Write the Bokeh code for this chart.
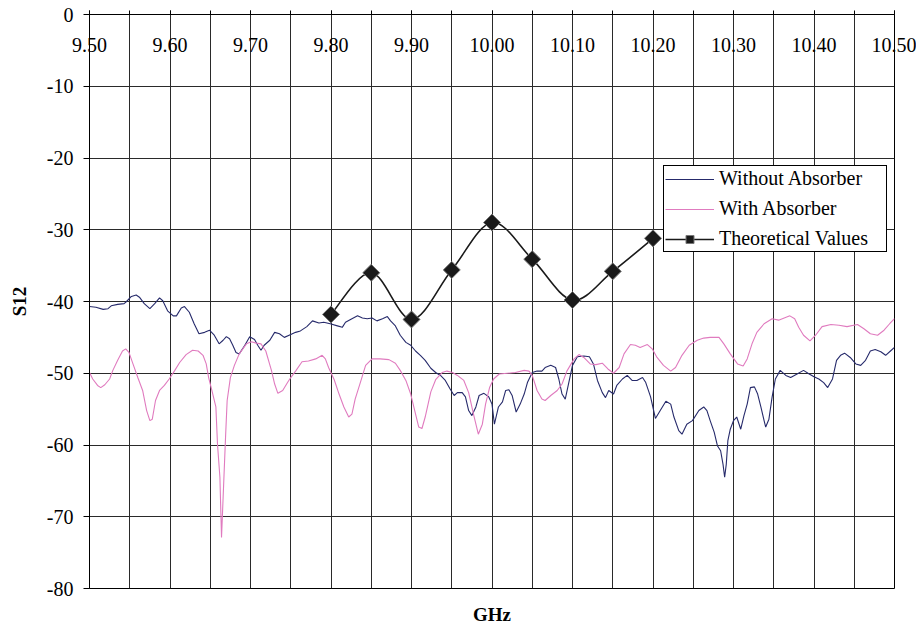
from bokeh.plotting import figure
from bokeh.models import (Range1d, FixedTicker, LinearAxis, Legend,
                          LegendItem, ColumnDataSource, NumeralTickFormatter)
from bokeh.embed import file_html
from bokeh.resources import INLINE

# ---------------- data ----------------
freq_without = [
    9.500, 9.508, 9.517, 9.523, 9.527, 9.535, 9.543, 9.546, 9.552, 9.558,
    9.562, 9.568, 9.575, 9.581, 9.587, 9.591, 9.597, 9.604, 9.608, 9.614,
    9.618, 9.624, 9.630, 9.636, 9.643, 9.649, 9.655, 9.661, 9.666, 9.670,
    9.674, 9.678, 9.682, 9.686, 9.693, 9.699, 9.705, 9.709, 9.713, 9.717,
    9.724, 9.730, 9.736, 9.742, 9.748,
    9.756, 9.762, 9.770, 9.777, 9.785, 9.791, 9.799, 9.808, 9.814, 9.818,
    9.826, 9.833, 9.839, 9.845, 9.851, 9.857, 9.864, 9.870, 9.874, 9.880,
    9.886, 9.893, 9.899, 9.905, 9.911, 9.917, 9.924, 9.930, 9.936, 9.942,
    9.948, 9.953, 9.957, 9.963, 9.967, 9.971, 9.975, 9.980, 9.984, 9.990,
    9.996, 10.000, 10.003,
    10.008, 10.013, 10.017, 10.021, 10.025, 10.030, 10.035, 10.040, 10.044, 10.050,
    10.056, 10.062, 10.066, 10.073, 10.079, 10.083, 10.087, 10.091, 10.095, 10.100,
    10.106, 10.114, 10.121, 10.126, 10.131, 10.137, 10.141, 10.145, 10.151, 10.155,
    10.162, 10.168, 10.174, 10.180, 10.187, 10.191, 10.197, 10.203, 10.209, 10.216,
    10.222, 10.226, 10.232, 10.236, 10.242, 10.249,
    10.257, 10.263, 10.267, 10.271, 10.276, 10.280, 10.284, 10.287, 10.289, 10.291,
    10.293, 10.296, 10.300, 10.304, 10.309, 10.313, 10.317, 10.321, 10.326, 10.330,
    10.334, 10.338, 10.340, 10.344, 10.348, 10.352, 10.358, 10.365, 10.371, 10.379,
    10.387, 10.394, 10.400, 10.406, 10.412, 10.417, 10.423, 10.428, 10.433, 10.438,
    10.445, 10.452, 10.458, 10.464, 10.470, 10.476, 10.483, 10.489, 10.495, 10.500,
]
s12_without = [
    -40.7, -40.8, -41.1, -41.0, -40.6, -40.4, -40.3, -40.0, -39.3, -39.1,
    -39.4, -40.3, -41.0, -40.3, -39.5, -39.9, -41.3, -42.0, -42.0, -40.9,
    -40.7, -41.5, -43.1, -44.5, -44.3, -44.0, -44.7, -45.9, -45.4, -44.9,
    -45.2, -46.1, -47.1, -47.3, -46.1, -44.9, -45.3, -46.1, -46.8, -46.1,
    -45.4, -44.3, -44.5, -45.0, -44.7,
    -44.3, -44.1, -43.5, -42.7, -43.0, -42.9, -43.1, -43.4, -43.6, -42.9,
    -42.4, -42.0, -42.3, -42.4, -42.3, -42.7, -42.4, -42.1, -42.7, -43.4,
    -44.7, -45.7, -46.1, -46.9, -47.5, -48.2, -49.3, -49.9, -50.3, -51.0,
    -52.2, -53.1, -52.7, -52.7, -53.3, -55.2, -55.9, -54.7, -53.1, -52.8,
    -53.3, -54.3, -57.1,
    -54.7, -54.0, -52.4, -52.3, -53.1, -55.4, -54.3, -52.9, -51.3, -49.9,
    -49.7, -49.7, -49.2, -48.9, -49.2, -50.8, -52.9, -53.6, -51.5, -48.9,
    -47.7, -47.6, -47.7, -48.7, -51.0, -52.7, -53.4, -52.4, -52.9, -51.7,
    -50.8, -50.3, -51.0, -51.0, -50.6, -51.3, -53.3, -56.3, -55.2, -53.9,
    -54.3, -56.1, -58.0, -58.5, -57.1, -56.6,
    -55.2, -54.7, -55.2, -56.6, -58.2, -60.1, -60.8, -62.7, -64.5, -62.7,
    -59.4, -57.8, -56.6, -56.1, -57.8, -55.9, -54.3, -52.0, -51.9, -52.9,
    -54.7, -56.6, -57.5, -56.4, -53.3, -50.8, -49.6, -50.3, -50.6, -50.1,
    -49.6, -50.1, -50.5, -50.8, -51.3, -52.0, -50.8, -48.2, -47.5, -47.2,
    -47.8, -48.7, -48.9, -48.2, -46.9, -46.7, -47.0, -47.5, -46.9, -46.4,
]

freq_with = [
    9.500, 9.504, 9.510, 9.514, 9.519, 9.525, 9.529, 9.535, 9.541, 9.545,
    9.549, 9.554, 9.560, 9.566, 9.571, 9.575, 9.578, 9.582, 9.587, 9.593,
    9.599, 9.606, 9.612, 9.620, 9.628, 9.635, 9.641, 9.645, 9.648, 9.652,
    9.657, 9.659, 9.662, 9.664, 9.666, 9.669, 9.671, 9.675, 9.680, 9.686,
    9.695, 9.701, 9.707, 9.713, 9.719, 9.726, 9.730, 9.734, 9.740, 9.746,
    9.750, 9.756, 9.764, 9.772, 9.781, 9.789, 9.793, 9.797, 9.804, 9.810,
    9.816, 9.822, 9.826, 9.830, 9.837, 9.843, 9.851, 9.861, 9.872, 9.880,
    9.886, 9.893, 9.899, 9.904, 9.909, 9.913, 9.917, 9.924, 9.930, 9.938,
    9.944, 9.951, 9.957, 9.965, 9.971, 9.977, 9.983, 9.988, 9.992, 9.997,
    10.002, 10.009, 10.019, 10.029, 10.040, 10.046, 10.050, 10.056, 10.062, 10.066,
    10.073, 10.081, 10.087, 10.093, 10.102, 10.108, 10.114, 10.122, 10.129, 10.137,
    10.144, 10.151, 10.158, 10.164, 10.172, 10.178, 10.184, 10.193, 10.199, 10.205,
    10.213, 10.222, 10.228, 10.236, 10.245,
    10.255, 10.263, 10.271, 10.282, 10.288, 10.296, 10.305, 10.312, 10.317, 10.323,
    10.329, 10.338, 10.348, 10.356, 10.363, 10.370, 10.376, 10.381, 10.387, 10.395,
    10.402, 10.410, 10.421, 10.431, 10.441, 10.454, 10.462, 10.470, 10.479, 10.487,
    10.494, 10.500,
]
s12_with = [
    -49.9, -50.8, -51.7, -52.0, -51.6, -50.8, -49.6, -48.2, -46.9, -46.6,
    -47.1, -48.7, -50.6, -52.4, -55.2, -56.6, -56.4, -53.8, -52.4, -51.7,
    -50.8, -49.6, -48.5, -47.4, -46.8, -46.9, -47.5, -48.7, -50.6, -52.4,
    -54.7, -59.9, -64.5, -72.9, -67.3, -58.9, -53.8, -50.6, -48.9, -47.3,
    -45.9, -45.6, -45.8, -45.9, -46.9, -49.6, -51.5, -52.8, -52.4, -51.3,
    -50.6, -49.7, -48.4, -48.3, -48.0, -47.5, -48.0, -49.2, -50.9, -52.9,
    -54.7, -56.1, -55.7, -53.6, -51.1, -48.9, -48.0, -48.0, -48.1, -48.6,
    -49.6, -51.0, -52.9, -55.2, -57.5, -57.7, -56.1, -52.6, -50.9, -49.9,
    -49.7, -49.9, -50.3, -51.0, -52.7, -55.7, -58.5, -57.1, -54.3, -52.0,
    -50.8, -50.1, -50.0, -49.9, -49.6, -49.7, -50.3, -52.4, -53.6, -53.8,
    -53.1, -52.4, -51.5, -49.7, -48.0, -47.4, -47.8, -48.7, -48.8, -48.6,
    -49.4, -50.0, -49.2, -47.3, -46.0, -46.1, -46.4, -46.0, -46.6, -47.8,
    -48.9, -49.7, -49.2, -47.5, -46.1,
    -45.4, -45.1, -45.0, -45.0, -45.9, -47.3, -48.7, -49.0, -48.0, -45.9,
    -44.3, -43.1, -42.4, -42.6, -42.3, -42.0, -42.4, -43.6, -44.7, -45.5,
    -44.7, -43.5, -43.2, -43.3, -43.5, -43.2, -43.8, -44.5, -44.7, -44.0,
    -43.1, -42.4,
]

theory_freq = [9.80, 9.85, 9.90, 9.95, 10.00, 10.05, 10.10, 10.15, 10.20]
theory_s12 = [-41.8, -36.0, -42.5, -35.6, -29.0, -34.1, -39.8, -35.8, -31.2]

x_label_values = [9.50, 9.60, 9.70, 9.80, 9.90, 10.00, 10.10, 10.20, 10.30, 10.40, 10.50]
x_label_texts = ["9.50", "9.60", "9.70", "9.80", "9.90", "10.00", "10.10",
                 "10.20", "10.30", "10.40", "10.50"]
x_grid_values = [9.50, 9.55, 9.60, 9.65, 9.70, 9.75, 9.80, 9.85, 9.90, 9.95, 10.00,
                 10.05, 10.10, 10.15, 10.20, 10.25, 10.30, 10.35, 10.40, 10.45, 10.50]
y_tick_values = [0, -10, -20, -30, -40, -50, -60, -70, -80]
y_tick_texts = ["0", "-10", "-20", "-30", "-40", "-50", "-60", "-70", "-80"]

# ---------------- styles ----------------
FONT = "Liberation Serif"
NAVY = "#262a6b"
PINK = "#e07bbf"
GRID = "#2a2a2a"

p = figure(width=916, height=630,
           x_range=Range1d(9.5, 10.5), y_range=Range1d(-80, 0),
           output_backend="svg", toolbar_location=None,
           min_border_left=89, min_border_right=22,
           min_border_top=14, min_border_bottom=42)
p.background_fill_color = "white"
p.border_fill_color = "white"
p.outline_line_color = "black"
p.outline_line_width = 1
p.outline_line_alpha = 1.0

# grids
p.xgrid.ticker = FixedTicker(ticks=x_grid_values)
p.xgrid.grid_line_color = GRID
p.xgrid.grid_line_width = 1
p.ygrid.ticker = FixedTicker(ticks=y_tick_values)
p.ygrid.grid_line_color = GRID
p.ygrid.grid_line_width = 1

# bottom axis: only the title
p.xaxis.ticker = FixedTicker(ticks=[])
p.xaxis.axis_line_color = None
p.xaxis.major_tick_line_color = None
p.xaxis.minor_tick_line_color = None
p.xaxis.major_label_standoff = 0
p.xaxis.axis_label = "GHz"
p.xaxis.axis_label_text_font = FONT
p.xaxis.axis_label_text_font_style = "bold"
p.xaxis.axis_label_text_font_size = "19px"
p.xaxis.axis_label_text_color = "black"
p.xaxis.axis_label_standoff = 15

# top axis: tick marks above the zero line, labels hanging just below it
top_axis = LinearAxis(ticker=FixedTicker(ticks=x_label_values, minor_ticks=x_grid_values),
                      formatter=NumeralTickFormatter(format="0.00"),
                      major_label_overrides=dict(zip(x_label_values, x_label_texts)),
                      major_tick_out=4, major_tick_in=0,
                      minor_tick_out=4, minor_tick_in=0,
                      major_label_text_font=FONT,
                      major_label_text_font_size="20px",
                      major_label_text_color="black",
                      major_label_standoff=-41,
                      axis_line_color="black",
                      major_tick_line_color="black",
                      minor_tick_line_color="black")
p.add_layout(top_axis, "above")

# left axis
p.yaxis.ticker = FixedTicker(ticks=y_tick_values)
p.yaxis.formatter = NumeralTickFormatter(format="0")
p.yaxis.major_label_overrides = dict(zip(y_tick_values, y_tick_texts))
p.yaxis.major_tick_out = 6
p.yaxis.major_tick_in = 0
p.yaxis.minor_tick_line_color = None
p.yaxis.axis_line_color = "black"
p.yaxis.major_tick_line_color = "black"
p.yaxis.major_label_text_font = FONT
p.yaxis.major_label_text_font_size = "20px"
p.yaxis.major_label_text_color = "black"
p.yaxis.major_label_standoff = 10
p.yaxis.axis_label = "S12"
p.yaxis.axis_label_text_font = FONT
p.yaxis.axis_label_text_font_style = "bold"
p.yaxis.axis_label_text_font_size = "19px"
p.yaxis.axis_label_text_color = "black"
p.yaxis.axis_label_standoff = 14

# measured series
r_without = p.line(freq_without, s12_without, line_color=NAVY, line_width=1.1)
r_with = p.line(freq_with, s12_with, line_color=PINK, line_width=1.1)

# smoothed theoretical curve (cubic Bezier segments through the points)
n = len(theory_freq)
x0, y0, x1, y1, cx0, cy0, cx1, cy1 = [], [], [], [], [], [], [], []
for i in range(n - 1):
    xm, ym = theory_freq[max(i - 1, 0)], theory_s12[max(i - 1, 0)]
    xa, ya = theory_freq[i], theory_s12[i]
    xb, yb = theory_freq[i + 1], theory_s12[i + 1]
    xp, yp = theory_freq[min(i + 2, n - 1)], theory_s12[min(i + 2, n - 1)]
    x0.append(xa); y0.append(ya); x1.append(xb); y1.append(yb)
    cx0.append(xa + (xb - xm) / 6.0); cy0.append(ya + (yb - ym) / 6.0)
    cx1.append(xb - (xp - xa) / 6.0); cy1.append(yb - (yp - ya) / 6.0)
bez_src = ColumnDataSource(dict(x0=x0, y0=y0, x1=x1, y1=y1,
                                cx0=cx0, cy0=cy0, cx1=cx1, cy1=cy1))
r_bez = p.bezier(x0="x0", y0="y0", x1="x1", y1="y1", cx0="cx0", cy0="cy0",
                 cx1="cx1", cy1="cy1", source=bez_src,
                 line_color="#1a1a1a", line_width=1.6)
r_pts = p.scatter(theory_freq, theory_s12, marker="square", angle=0.785398,
                  size=12, fill_color="#1a1a1a", line_color="#777777",
                  line_width=1)

legend = Legend(items=[
    LegendItem(label="Without Absorber", renderers=[r_without]),
    LegendItem(label="With Absorber", renderers=[r_with]),
    LegendItem(label="Theoretical Values", renderers=[r_bez, r_pts]),
], location=(574, 336))
legend.label_text_font = FONT
legend.label_text_font_size = "20px"
legend.label_text_color = "black"
legend.border_line_color = "black"
legend.border_line_width = 1
legend.border_line_alpha = 1.0
legend.background_fill_color = "white"
legend.background_fill_alpha = 1.0
legend.glyph_width = 49
legend.glyph_height = 20
legend.label_width = 166
legend.label_standoff = 5
legend.padding = 1
legend.spacing = 7
legend.margin = 0
p.add_layout(legend)

open("out.html", "w").write(file_html(p, INLINE))
